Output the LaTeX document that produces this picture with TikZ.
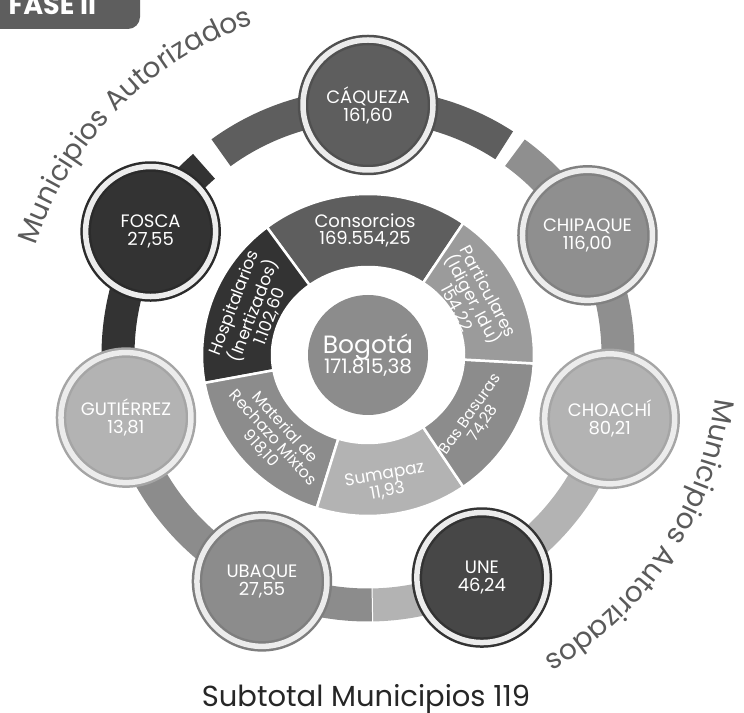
\documentclass[tikz,border=0pt]{standalone}
\usepackage{fontspec}
\setmainfont{Poppins}
\usetikzlibrary{calc,decorations.text}

\definecolor{caqgray}{HTML}{5E5E5E}
\definecolor{foscagray}{HTML}{333333}
\definecolor{midgray}{HTML}{8C8C8C}
\definecolor{chipgray}{HTML}{8F8F8F}
\definecolor{ltgray}{HTML}{B3B3B3}
\definecolor{unegray}{HTML}{474747}
\definecolor{partgray}{HTML}{9B9B9B}
\definecolor{ringwhite}{HTML}{ECECEC}
\definecolor{titlegray}{HTML}{5A5A5A}
\definecolor{textdark}{HTML}{262626}

\tikzset{
  muni/.style 2 args={circle, fill=#1, draw=#2, double=ringwhite,
    double distance=5.5pt, line width=2.5pt, minimum size=130pt,
    inner sep=0pt, text=white, align=center,
    font=\fontsize{18}{18}\selectfont},
  band/.style={draw=#1, line width=33pt},
  seglabel/.style={text=white, align=center,
    font=\fontsize{17}{17}\selectfont},
}

% one piece of the inner donut: start angle, end angle, colour
\newcommand{\donutseg}[3]{%
  \filldraw[fill=#3, draw=white, line width=2.5pt]
    ($(C)+(#1:166pt and 161pt)$) arc[start angle=#1, end angle=#2, x radius=166pt, y radius=161pt]
    -- ($(C)+(#2:96pt and 88pt)$) arc[start angle=#2, end angle=#1, x radius=96pt, y radius=88pt]
    -- cycle;}

\begin{document}
\begin{tikzpicture}[x=1pt, y=1pt]
  \useasboundingbox (0,0) rectangle (744,712);
  \clip (0,0) rectangle (744,712);
  \coordinate (C) at (368,357);

  % tab
  \fill[caqgray, rounded corners=12pt] (-20,683) rectangle (140,740);
  \node[anchor=base west, text=white, font=\bfseries\fontsize{27}{27}\selectfont] (fase) at (5,697) {FASE II};

  % outer ring
  \draw[band=caqgray] ($(C)+(57:250pt)$) arc[start angle=57, end angle=126, radius=250pt];
  \draw[band=foscagray] ($(C)+(131:250pt)$) arc[start angle=131, end angle=195, radius=250pt];
  \draw[band=midgray] ($(C)+(195:250pt)$) arc[start angle=195, end angle=271, radius=250pt];
  \draw[band=ltgray] ($(C)+(271:250pt)$) arc[start angle=271, end angle=345, radius=250pt];
  \draw[band=chipgray] ($(C)+(-15:250pt)$) arc[start angle=-15, end angle=54, radius=250pt];
  \draw[white, line width=1pt] ($(C)+(271:233pt)$) -- ($(C)+(271:267pt)$);

  % municipios
  \node[muni={caqgray}{caqgray!85!black}] (caqueza) at ($(C)+(90:250pt)$) {CÁQUEZA\\161,60};
  \node[muni={chipgray}{chipgray!90!black}] (chipaque) at ($(C)+(28.6:250pt)$) {CHIPAQUE\\116,00};
  \node[muni={ltgray}{ltgray!92!black}] (choachi) at ($(C)+(-14.8:250pt)$) {CHOACHÍ\\80,21};
  \node[muni={unegray}{foscagray}] (une) at ($(C)+(-62.9:250pt)$) {UNE\\46,24};
  \node[muni={midgray}{midgray!90!black}] (ubaque) at ($(C)+(244.9:250pt)$) {UBAQUE\\27,55};
  \node[muni={ltgray}{ltgray!92!black}] (gutierrez) at ($(C)+(194.5:250pt)$) {GUTIÉRREZ\\13,81};
  \node[muni={foscagray}{foscagray!85!black}] (fosca) at ($(C)+(150.4:250pt)$) {FOSCA\\27,55};

  % inner donut
  \donutseg{55}{127.5}{caqgray}
  \donutseg{127.5}{190}{foscagray}
  \donutseg{190}{252}{midgray}
  \donutseg{252}{305}{ltgray}
  \donutseg{305}{357}{midgray}
  \donutseg{-3}{55}{partgray}

  \node[seglabel, font=\fontsize{18}{17}\selectfont] (consorcios) at (365,482) {Consorcios\\169.554,25};
  \node[seglabel, rotate=69] (hospitalarios) at (252,402) {Hospitalarios\\(Inertizados)\\1.102,60};
  \node[seglabel, rotate=-62] (particulares) at (472,412) {Particulares\\(Idiger, Idu)\\154,22};
  \node[seglabel, rotate=55, font=\fontsize{15.5}{16}\selectfont] (basuras) at (477,293) {Bas Basuras\\74,28};
  \node[seglabel, rotate=10] (sumapaz) at (386,229) {Sumapaz\\11,93};
  \node[seglabel, rotate=-48, font=\fontsize{16}{16}\selectfont] (material) at (273,274) {Material de\\Rechazo Mixtos\\918,10};

  % centre
  \node[circle, fill=midgray, minimum size=120pt, inner sep=0pt, text=white, align=center] (bogota) at (C)
    {{\fontsize{25}{24}\selectfont Bogotá}\\[-2pt]{\fontsize{20}{20}\selectfont 171.815,38}};

  % curved titles
  \path[decorate, decoration={text along path, text align=center,
      text={|\fontsize{28}{28}\selectfont\color{titlegray}|Municipios Autorizados}}]
    ($(C)+(178:350pt)$) arc[start angle=178, end angle=93, radius=350pt];
  \path[decorate, decoration={text along path, text align=center,
      text={|\fontsize{28}{28}\selectfont\color{titlegray}|Municipios Autorizados}}]
    ($(C)+(9:350pt)$) arc[start angle=9, end angle=-76, radius=350pt];

  \node[anchor=base, text=textdark, font=\fontsize{29}{29}\selectfont] (subtotal) at (366,6) {Subtotal Municipios 119};
\end{tikzpicture}
\end{document}
